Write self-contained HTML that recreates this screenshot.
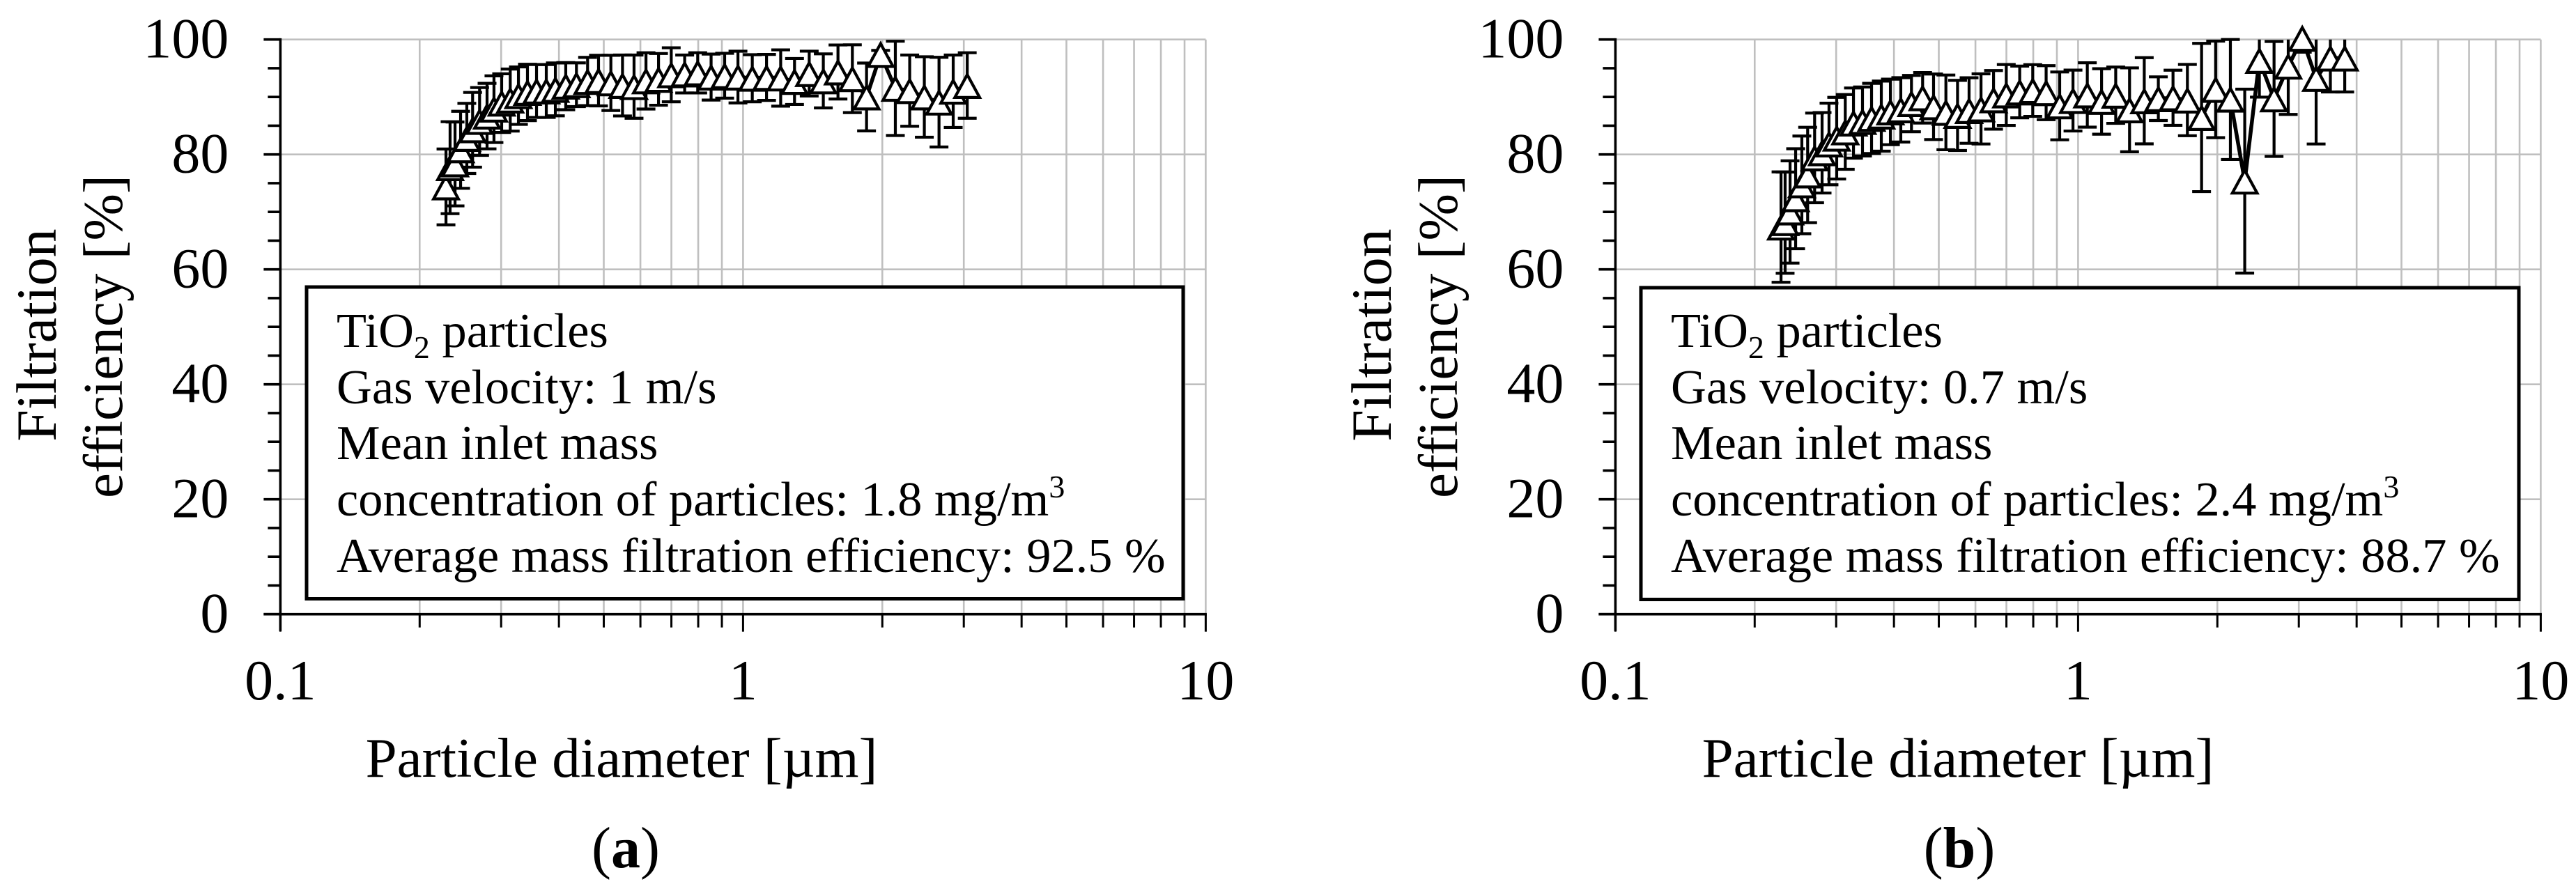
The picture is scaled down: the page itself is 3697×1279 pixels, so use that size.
<!DOCTYPE html>
<html>
<head>
<meta charset="utf-8">
<title>Filtration efficiency charts</title>
<style>
html,body{margin:0;padding:0;background:#fff;}
svg{display:block;}
text{font-family:"Liberation Serif","Times New Roman",serif;fill:#000;}
</style>
</head>
<body>
<svg id="figure" xmlns="http://www.w3.org/2000/svg" width="3697" height="1279" viewBox="0 0 3697 1279">
  <rect width="3697" height="1279" fill="#fff"/>
  <g id="panel-a"></g>
  <g id="panel-b"></g>

  <g font-size="70.4">
    <rect x="440" y="412" width="1258" height="447.5" fill="#fff" stroke="#000" stroke-width="5"/>
    <text x="483" y="498">TiO<tspan font-size="46" dy="16">2</tspan><tspan dy="-16"> particles</tspan></text>
    <text x="483" y="579">Gas velocity: 1 m/s</text>
    <text x="483" y="659">Mean inlet mass</text>
    <text x="483" y="740">concentration of particles: 1.8 mg/m<tspan font-size="46" dy="-26">3</tspan></text>
    <text x="483" y="821">Average mass filtration efficiency: 92.5 %</text>
  </g>
  <g font-size="70.4">
    <rect x="2355" y="413" width="1260" height="447.5" fill="#fff" stroke="#000" stroke-width="5"/>
    <text x="2398" y="498">TiO<tspan font-size="46" dy="16">2</tspan><tspan dy="-16"> particles</tspan></text>
    <text x="2398" y="579">Gas velocity: 0.7 m/s</text>
    <text x="2398" y="659">Mean inlet mass</text>
    <text x="2398" y="740">concentration of particles: 2.4 mg/m<tspan font-size="46" dy="-26">3</tspan></text>
    <text x="2398" y="821">Average mass filtration efficiency: 88.7 %</text>
  </g>

  <g font-size="81">
    <text font-size="82" transform="translate(80,481) rotate(-90)" text-anchor="middle">Filtration</text>
    <text transform="translate(175,483) rotate(-90)" text-anchor="middle">efficiency [%]</text>
    <text x="892" y="1115" text-anchor="middle">Particle diameter [µm]</text>
    <text font-size="84" x="898" y="1245" text-anchor="middle">(<tspan font-weight="bold">a</tspan>)</text>
  </g>
  <g font-size="81">
    <text font-size="82" transform="translate(1996,481) rotate(-90)" text-anchor="middle">Filtration</text>
    <text transform="translate(2091,483) rotate(-90)" text-anchor="middle">efficiency [%]</text>
    <text x="2810" y="1115" text-anchor="middle">Particle diameter [µm]</text>
    <text font-size="84" x="2812" y="1245" text-anchor="middle">(<tspan font-weight="bold">b</tspan>)</text>
  </g>
</svg>
<script>
var diameters = [0.228,0.2327,0.2385,0.2452,0.2529,0.2603,0.2695,0.2797,0.2895,0.3008,0.3139,0.327,0.342,0.3578,0.3756,0.393,0.4138,0.4364,0.4613,0.4871,0.518,0.5489,0.5813,0.6169,0.6566,0.6995,0.7479,0.798,0.853,0.9125,0.975,1.047,1.124,1.206,1.292,1.39,1.491,1.604,1.723,1.849,1.983,2.134,2.292,2.465,2.652,2.846,3.052,3.27,3.51,3.77];
var efficiencyA = [74.35,77.7,78.35,80.81,82.79,84.29,85.74,86.67,87.88,88.93,89.46,90.23,90.79,91.04,91.04,91.32,91.88,92.13,92.69,92.85,92.45,92.0,91.8,92.8,93.06,93.86,94.0,94.2,93.46,93.7,93.46,93.26,93.4,93.3,92.7,94.07,92.8,94.35,93.18,90.0,97.4,91.5,91.1,90.0,89.1,91.0,92.0];
var errorA = [6.6,8.0,7.3,6.7,6.1,6.5,5.9,5.7,5.8,5.1,5.4,5.0,4.9,4.6,4.6,4.6,4.1,3.8,4.2,4.4,4.8,5.3,5.5,4.9,4.5,4.7,3.3,3.5,4.0,3.9,4.5,4.1,4.0,4.9,4.0,3.9,4.7,4.7,5.9,5.9,0.7,8.2,6.2,7.0,7.8,6.3,5.7];
var efficiencyB = [67.36,68.13,69.99,72.29,74.71,76.43,79.4,80.29,81.82,82.83,83.92,85.46,85.74,86.27,86.67,87.4,87.76,88.85,89.86,88.29,87.32,86.79,87.64,87.92,89.5,90.35,90.87,91.12,90.75,88.45,89.38,90.35,89.22,90.31,87.76,89.34,89.7,89.86,89.46,86.43,91.32,89.62,75.36,96.37,89.66,95.36,100.2,93.22,96.77,96.77];
var errorB = [9.6,8.8,8.9,8.7,8.5,8.3,7.8,7.0,7.1,7.1,6.5,6.1,6.0,6.1,6.1,5.7,5.6,4.9,4.4,5.7,6.5,6.1,5.7,6.1,5.1,5.3,4.5,4.5,4.7,5.9,5.3,5.6,5.7,4.9,7.3,7.5,3.8,4.8,6.2,12.9,8.4,10.5,16.0,6.4,10.0,8.4,2.4,11.4,5.9,5.9];
var yTickValues = [0,20,40,60,80,100];
var yMinorValues = [5,10,15,25,30,35,45,50,55,65,70,75,85,90,95];
var xMajorValues = [0.1,1,10];
var xMinorValues = [0.2,0.3,0.4,0.5,0.6,0.7,0.8,0.9,2,3,4,5,6,7,8,9];
var xTickLabels = ["0.1","1","10"];
var yTickLabels = ["0","20","40","60","80","100"];

var SVGNS = "http://www.w3.org/2000/svg";
var yBottom = 881.7, pxPerUnit = 8.25, xDecade = 664;

function shape(parent, tag, attrs) {
  var el = document.createElementNS(SVGNS, tag);
  for (var k in attrs) el.setAttribute(k, attrs[k]);
  parent.appendChild(el);
  return el;
}

function drawPanel(root, originX, values, errors, suffix) {
  function xScale(d) { return originX + Math.log10(d / 0.1) * xDecade; }
  function yScale(v) { return yBottom - v * pxPerUnit; }
  var right = xScale(10), top = yScale(100);

  var grid = shape(root, "g", {stroke: "#bfbfbf", "stroke-width": 2.6});
  
  
  yTickValues.forEach(function (v) {
    if (v === 0) return;
    var l = shape(grid, "line", {x1: originX, x2: right, y1: yScale(v), y2: yScale(v)});
    
    
  });
  xMinorValues.concat(xMajorValues.slice(1)).forEach(function (d) {
    var l = shape(grid, "line", {x1: xScale(d), x2: xScale(d), y1: top, y2: yBottom});
    
    
  });

  var axes = shape(root, "g", {stroke: "#000", "stroke-width": 3.6});
  
  
  var yLine = shape(axes, "line", {x1: originX, x2: originX, y1: top - 1.8, y2: yBottom + 24});
  
  
  var xLine = shape(axes, "line", {x1: originX - 24, x2: right + 1.5, y1: yBottom, y2: yBottom});
  
  

  yTickValues.forEach(function (v, i) {
    var t = shape(axes, "line", {x1: originX - 24, x2: originX, y1: yScale(v), y2: yScale(v)});
    
    
    var lab = shape(root, "text", {x: originX - 74, y: yScale(v) + 26, "font-size": 82, "text-anchor": "end"});
    
    
    lab.textContent = yTickLabels[i];
  });
  yMinorValues.forEach(function (v) {
    var t = shape(axes, "line", {x1: originX - 18, x2: originX, y1: yScale(v), y2: yScale(v)});
    
    
  });
  xMajorValues.forEach(function (d, i) {
    var t = shape(axes, "line", {x1: xScale(d), x2: xScale(d), y1: yBottom, y2: yBottom + 25, "stroke-width": 3});
    
    
    var lab = shape(root, "text", {x: xScale(d), y: 1004, "font-size": 82, "text-anchor": "middle"});
    
    
    lab.textContent = xTickLabels[i];
  });
  xMinorValues.forEach(function (d) {
    var t = shape(axes, "line", {x1: xScale(d), x2: xScale(d), y1: yBottom, y2: yBottom + 19, "stroke-width": 3});
    
    
  });

  var bars = shape(root, "g", {stroke: "#000", "stroke-width": 4.2, fill: "none"});
  
  
  values.forEach(function (v, i) {
    var x = xScale(diameters[i]);
    var hiRaw = v + errors[i], hi = Math.min(hiRaw, 100), lo = v - errors[i];
    var d = "M" + x + " " + yScale(hi) + "V" + yScale(lo) + "M" + (x - 13.5) + " " + yScale(lo) + "H" + (x + 13.5);
    if (hiRaw <= 100.2) d += "M" + (x - 13.5) + " " + yScale(hi) + "H" + (x + 13.5);
    var bar = shape(bars, "path", {d: d});
    
    
  });

  var pts = values.map(function (v, i) { return xScale(diameters[i]) + "," + yScale(v); }).join(" ");
  var line = shape(root, "polyline", {points: pts, fill: "none", stroke: "#000", "stroke-width": 5.5});
  
  

  var markers = shape(root, "g", {fill: "#fff", stroke: "#000", "stroke-width": 4.2, "stroke-linejoin": "miter"});
  
  
  values.forEach(function (v, i) {
    var x = xScale(diameters[i]), y = yScale(v);
    var tri = shape(markers, "path", {d: "M" + x + " " + (y - 15.5) + "L" + (x + 17.8) + " " + (y + 17.2) + "H" + (x - 17.8) + "Z"});
    
    
  });
}

drawPanel(document.getElementById("panel-a"), 402.4, efficiencyA, errorA, "a");
drawPanel(document.getElementById("panel-b"), 2318.4, efficiencyB, errorB, "b");
</script>
</body>
</html>
